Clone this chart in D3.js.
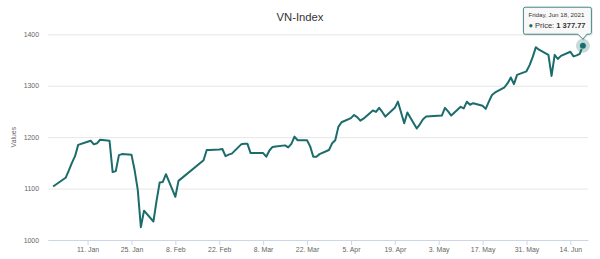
<!DOCTYPE html>
<html>
<head>
<meta charset="utf-8">
<script src="https://cdn.jsdelivr.net/npm/d3@7"></script>
<style>
  body { margin: 0; background: #fff; }
  svg { display: block; font-family: "Liberation Sans", Arial, Helvetica, sans-serif; }
</style>
</head>
<body>
<svg width="600" height="259"></svg>
<script>
// VN-Index daily close, 31 Dec 2020 - 18 Jun 2021
const tradeDays = [
  "2020-12-31",
  "2021-01-04","2021-01-05","2021-01-06","2021-01-07","2021-01-08",
  "2021-01-11","2021-01-12","2021-01-13","2021-01-14","2021-01-15",
  "2021-01-18","2021-01-19","2021-01-20","2021-01-21","2021-01-22",
  "2021-01-25","2021-01-26","2021-01-27","2021-01-28","2021-01-29",
  "2021-02-01","2021-02-02","2021-02-03","2021-02-04","2021-02-05",
  "2021-02-08","2021-02-09","2021-02-17","2021-02-18","2021-02-19",
  "2021-02-22","2021-02-23","2021-02-24","2021-02-25","2021-02-26",
  "2021-03-01","2021-03-02","2021-03-03","2021-03-04","2021-03-05",
  "2021-03-08","2021-03-09","2021-03-10","2021-03-11","2021-03-12",
  "2021-03-15","2021-03-16","2021-03-17","2021-03-18","2021-03-19",
  "2021-03-22","2021-03-23","2021-03-24","2021-03-25","2021-03-26",
  "2021-03-29","2021-03-30","2021-03-31","2021-04-01","2021-04-02",
  "2021-04-05","2021-04-06","2021-04-07","2021-04-08","2021-04-09",
  "2021-04-12","2021-04-13","2021-04-14","2021-04-15","2021-04-16",
  "2021-04-19","2021-04-20","2021-04-22","2021-04-23",
  "2021-04-26","2021-04-27","2021-04-28","2021-04-29",
  "2021-05-04","2021-05-05","2021-05-06","2021-05-07",
  "2021-05-10","2021-05-11","2021-05-12","2021-05-13","2021-05-14",
  "2021-05-17","2021-05-18","2021-05-19","2021-05-20","2021-05-21",
  "2021-05-24","2021-05-25","2021-05-26","2021-05-27","2021-05-28",
  "2021-05-31","2021-06-01","2021-06-02","2021-06-03","2021-06-04",
  "2021-06-07","2021-06-08","2021-06-09","2021-06-10","2021-06-11",
  "2021-06-14","2021-06-15","2021-06-16","2021-06-17","2021-06-18"
];
const closes = [
  1104,
  1121, 1135, 1150, 1163, 1185,
  1191, 1193, 1186, 1188, 1195,
  1193, 1132, 1134, 1165, 1167,
  1166, 1136, 1098, 1025, 1057,
  1036, 1076, 1112, 1113, 1128,
  1084, 1115, 1155, 1175, 1175,
  1176, 1177, 1163, 1166, 1168,
  1186, 1187, 1187, 1169, 1169,
  1169, 1162, 1174, 1181, 1182,
  1184, 1180, 1187, 1201, 1194,
  1194, 1182, 1162, 1162, 1167,
  1175, 1188, 1194, 1220, 1229,
  1237, 1243, 1239, 1232, 1236,
  1252, 1249, 1257, 1249, 1240,
  1257, 1269, 1227, 1248,
  1217, 1225, 1235, 1240,
  1242, 1257, 1250, 1242,
  1259, 1256, 1269, 1263, 1266,
  1261, 1255, 1269, 1282, 1287,
  1297, 1305, 1316, 1303, 1321,
  1328, 1340, 1356, 1375, 1370,
  1360, 1319, 1360, 1352, 1358,
  1366, 1357, 1359, 1362, 1377.77
];
const xTickDates = ["2021-01-11","2021-01-25","2021-02-08","2021-02-22","2021-03-08","2021-03-22",
                    "2021-04-05","2021-04-19","2021-05-03","2021-05-17","2021-05-31","2021-06-14"];
const yTicks = [1000, 1100, 1200, 1300, 1400];

const lineColor = "#1b6c6b";

const svg = d3.select("svg"),
    width = +svg.attr("width"),
    height = +svg.attr("height");

const margin = {left: 48, right: 12, top: 34.3, bottom: 19};
const parse = d3.utcParse("%Y-%m-%d");
const data = tradeDays.map((d, i) => ({date: parse(d), value: closes[i]}));

// time axis, a bit of padding either side of the data
const x = d3.scaleUtc()
    .domain([new Date(Date.UTC(2020, 11, 29, 9)), new Date(Date.UTC(2021, 5, 19, 15))])
    .range([margin.left, width - margin.right]);

const y = d3.scaleLinear()
    .domain([1000, 1400])
    .range([height - margin.bottom, margin.top]);

// title
svg.append("text")
    .attr("x", width / 2)
    .attr("y", 21)
    .attr("text-anchor", "middle")
    .style("font-size", "11.25px")
    .style("fill", "#333")
    .text("VN-Index");

// y grid + labels
const yAxis = svg.append("g")
    .attr("transform", `translate(${margin.left},0)`)
    .call(d3.axisLeft(y)
        .tickValues(yTicks)
        .tickFormat(d3.format("d"))
        .tickSize(-(width - margin.left - margin.right))
        .tickPadding(9));
yAxis.select(".domain").remove();
yAxis.selectAll(".tick line").attr("stroke", "#e6e6e6");
yAxis.selectAll(".tick text")
    .style("font-size", "6.9px")
    .style("fill", "#666")
    .style("font-family", "\"Liberation Sans\", Arial, sans-serif");

svg.append("text")
    .attr("transform", `translate(16,${(y(1000) + y(1400)) / 2}) rotate(-90)`)
    .attr("text-anchor", "middle")
    .style("font-size", "6.9px")
    .style("fill", "#666")
    .text("Values");

// x axis
const xAxis = svg.append("g")
    .attr("transform", `translate(0,${y(1000)})`)
    .call(d3.axisBottom(x)
        .tickValues(xTickDates.map(parse))
        .tickFormat(d3.utcFormat("%-d. %b"))
        .tickSize(5)
        .tickSizeOuter(0)
        .tickPadding(2));
xAxis.select(".domain").attr("stroke", "#ccd6eb");
xAxis.selectAll(".tick line").attr("stroke", "#ccd6eb");
xAxis.selectAll(".tick text")
    .style("font-size", "6.9px")
    .style("fill", "#666")
    .style("font-family", "\"Liberation Sans\", Arial, sans-serif");

// the series
svg.append("path")
    .datum(data)
    .attr("fill", "none")
    .attr("stroke", lineColor)
    .attr("stroke-width", 2)
    .attr("stroke-linejoin", "round")
    .attr("d", d3.line()
        .x(d => x(d.date))
        .y(d => y(d.value)));

// hovered point + tooltip (last day)
const last = data[data.length - 1];
const px = x(last.date), py = y(last.value);

svg.append("circle")
    .attr("cx", px).attr("cy", py).attr("r", 7)
    .attr("fill", lineColor).attr("fill-opacity", 0.25);
svg.append("circle")
    .attr("cx", px).attr("cy", py).attr("r", 3.5)
    .attr("fill", lineColor).attr("stroke", "#fff").attr("stroke-width", 0.6);

const bx0 = px - 59.5, bx1 = px + 8.5, by0 = py - 38.5, by1 = py - 11.5, r = 2;
const tip = d3.path();
tip.moveTo(bx0 + r, by0);
tip.lineTo(bx1 - r, by0);
tip.quadraticCurveTo(bx1, by0, bx1, by0 + r);
tip.lineTo(bx1, by1 - r);
tip.quadraticCurveTo(bx1, by1, bx1 - r, by1);
tip.lineTo(px + 4, by1);
tip.lineTo(px, py - 6.5);
tip.lineTo(px - 5, by1);
tip.lineTo(bx0 + r, by1);
tip.quadraticCurveTo(bx0, by1, bx0, by1 - r);
tip.lineTo(bx0, by0 + r);
tip.quadraticCurveTo(bx0, by0, bx0 + r, by0);
tip.closePath();

svg.append("path")
    .attr("d", tip.toString())
    .attr("transform", "translate(0.6,0.6)")
    .attr("fill", "none")
    .attr("stroke", "#000")
    .attr("stroke-opacity", 0.08)
    .attr("stroke-width", 2);
svg.append("path")
    .attr("d", tip.toString())
    .attr("fill", "rgba(247,247,247,0.9)")
    .attr("stroke", lineColor)
    .attr("stroke-width", 0.8);

const nf = d3.formatLocale({decimal: ".", thousands: " ", grouping: [3], currency: ["", ""]}).format(",.2f");

svg.append("text")
    .attr("x", bx0 + 5)
    .attr("y", by0 + 9.5)
    .style("font-size", "6.2px")
    .style("fill", "#333")
    .text(d3.utcFormat("%A, %b %d, %Y")(last.date));

const body = svg.append("text")
    .attr("x", bx0 + 5)
    .attr("y", by0 + 20.5)
    .style("font-size", "7.5px")
    .style("fill", "#333");
body.append("tspan").style("fill", lineColor).text("\u25CF ");
body.append("tspan").text("Price: ");
body.append("tspan").style("font-weight", "bold").text(nf(last.value));
</script>
</body>
</html>
